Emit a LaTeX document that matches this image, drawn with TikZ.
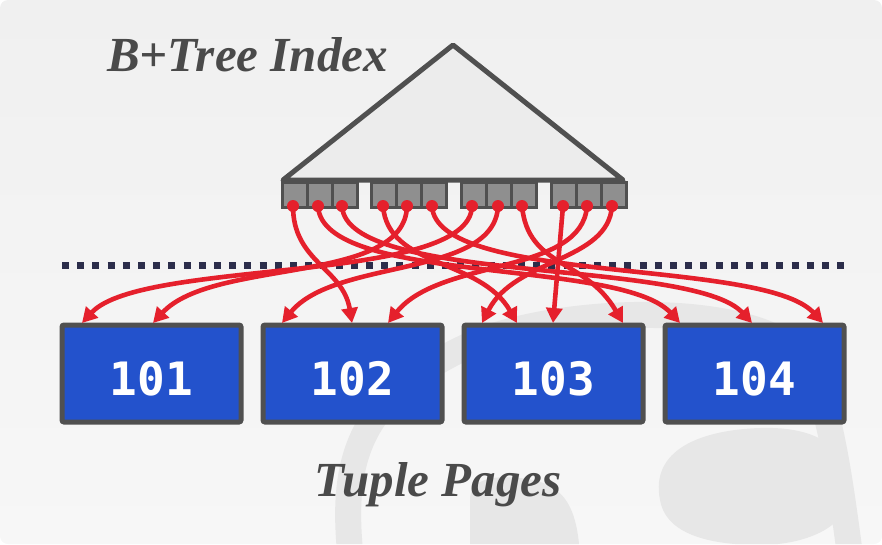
\documentclass[tikz,border=0pt]{standalone}
\usepackage{fontspec}
\setmainfont{Liberation Serif}
\newfontfamily\monob{DejaVu Sans Mono}
\usetikzlibrary{arrows.meta}
\definecolor{bgtop}{HTML}{F0F0F0}
\definecolor{bgbot}{HTML}{F7F7F7}
\definecolor{wm}{HTML}{E7E7E7}
\definecolor{edge}{HTML}{505050}
\definecolor{cellfill}{HTML}{8F8F8F}
\definecolor{trifill}{HTML}{ECECEC}
\definecolor{dotline}{HTML}{2B2D4A}
\definecolor{ptr}{HTML}{E5202C}
\definecolor{pageblue}{HTML}{2352CC}
\definecolor{titlegray}{HTML}{4A4A4A}
\tikzset{
  pagebox/.style={draw=edge, line width=5pt, fill=pageblue, rounded corners=2pt,
    minimum width=179pt, minimum height=97pt, inner sep=0pt},
  pagenum/.style={text=white, font=\monob\bfseries\fontsize{46}{46}\selectfont, inner sep=0pt, anchor=base},
  cellbox/.style={draw=edge, line width=3pt, fill=cellfill, minimum width=25pt, minimum height=25pt, inner sep=0pt},
  ptrline/.style={draw=ptr, line width=4.6pt, -{Triangle[length=15pt,width=16pt]}},
  srcdot/.style={circle, fill=ptr, minimum size=12pt, inner sep=0pt},
  title/.style={text=titlegray, font=\bfseries\itshape\fontsize{49}{49}\selectfont, inner sep=0pt, anchor=base west}
}
\begin{document}
\begin{tikzpicture}[x=1pt,y=-1pt]
\useasboundingbox (0,0) rectangle (882,544);
% background
\shade[top color=bgtop, bottom color=bgbot, rounded corners=8pt] (0,0) rectangle (882,544);
% faint watermark
\begin{scope}
\clip[rounded corners=8pt] (0,0) rectangle (882,544);
\draw[wm, line width=26pt] (352,570) .. controls (340,470) and (350,400) .. (470,345)
   .. controls (560,305) and (760,300) .. (805,360) .. controls (830,400) and (840,480) .. (852,570);
\fill[wm] (470,560) -- (470,500) .. controls (470,480) and (490,475) .. (520,478)
   .. controls (560,482) and (578,500) .. (580,560) -- cycle;
\fill[wm] (660,500) .. controls (650,450) and (700,430) .. (760,428)
   .. controls (820,426) and (850,450) .. (850,490) .. controls (850,530) and (800,545) .. (760,545)
   .. controls (700,545) and (665,530) .. (660,500) -- cycle;
\end{scope}
% titles
\node[title] (ttop) at (107,71) {B+Tree Index};
\node[title] (tbot) at (314,496) {Tuple Pages};
% triangle
\draw[edge, line width=5pt, fill=trifill, line join=round] (283,180) -- (453,45) -- (623,180) -- cycle;
% leaf cells
\foreach \g/\gx in {1/281,2/370,3/460,4/550}{
  \foreach \c in {0,1,2}{
    \node[cellbox, anchor=north west] (c\g\c) at (\gx+25*\c,181) {};
  }
}
% source dots
\foreach \n/\x in {1/293,2/318,3/342,4/383,5/407,6/432,7/472,8/498,9/522,10/563,11/587,12/612}{
  \node[srcdot] (s\n) at (\x,206) {};
}
% dotted line
\coordinate (dl) at (62,265);
\coordinate (dr) at (846,265);
\draw[dotline, line width=7pt, dash pattern=on 7pt off 8.2pt] (dl) -- (dr);
% pages
\node[pagebox] (p101) at (151.5,373.5) {};
\node[pagebox] (p102) at (352.5,373.5) {};
\node[pagebox] (p103) at (553.5,373.5) {};
\node[pagebox] (p104) at (754.5,373.5) {};
\node[pagenum] (n101) at (151.5,395) {101};
\node[pagenum] (n102) at (352.5,395) {102};
\node[pagenum] (n103) at (553.5,395) {103};
\node[pagenum] (n104) at (754.5,395) {104};
% targets on page tops
\foreach \n/\x in {a/82,b/153,c/282,d/352,e/388,f/482,g/517,h/553,i/623,j/680,k/752,l/823}{
  \coordinate (t\n) at (\x,323);
}
% pointers
\draw[ptrline] (s1.center) .. controls (293,262) and (343,268) .. (td);
\draw[ptrline] (s2.center) .. controls (322,285) and (620,258) .. (tj);
\draw[ptrline] (s3.center) .. controls (346,285) and (692,258) .. (tk);
\draw[ptrline] (s4.center) .. controls (388,268) and (480,258) .. (tg);
\draw[ptrline] (s5.center) .. controls (405,285) and (213,258) .. (tb);
\draw[ptrline] (s6.center) .. controls (436,285) and (763,258) .. (tl);
\draw[ptrline] (s7.center) .. controls (470,285) and (142,258) .. (ta);
\draw[ptrline] (s8.center) .. controls (495,278) and (335,258) .. (tc);
\draw[ptrline] (s9.center) .. controls (528,268) and (585,258) .. (ti);
\draw[ptrline] (s10.center) -- (th);
\draw[ptrline] (s11.center) .. controls (582,275) and (440,258) .. (te);
\draw[ptrline] (s12.center) .. controls (608,262) and (515,258) .. (tf);
\end{tikzpicture}
\end{document}
